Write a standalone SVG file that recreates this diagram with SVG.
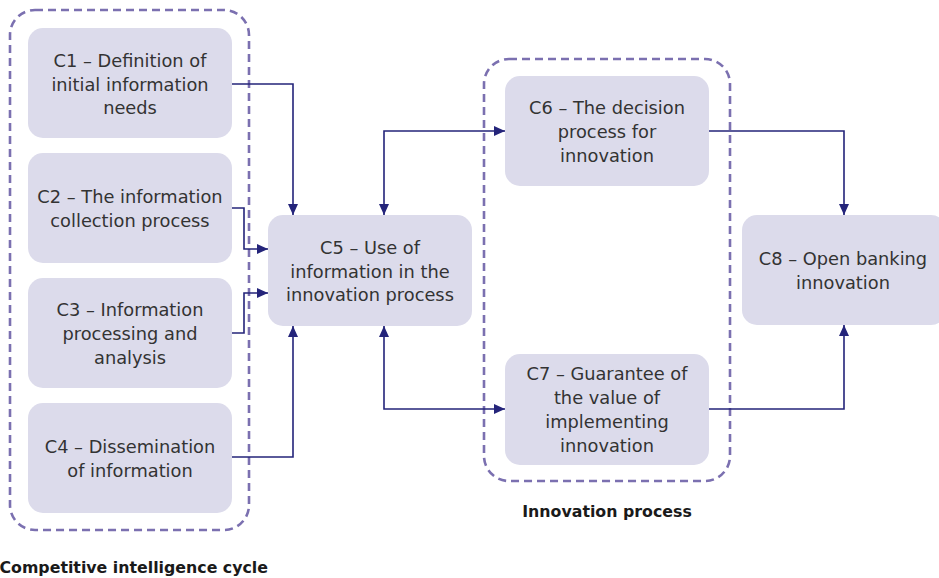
<svg xmlns="http://www.w3.org/2000/svg" width="939" height="578" viewBox="0 0 939 578">
  <defs>
    <style>
      .group { fill: none; stroke: #7b70b0; stroke-width: 2.6; stroke-dasharray: 8 5; }
      .node rect { fill: #dcdbeb; }
      .node text { font-family: "DejaVu Sans", sans-serif; font-size: 17.8px; fill: #333333; text-anchor: middle; }
      .label { font-family: "DejaVu Sans", sans-serif; font-weight: bold; font-size: 15.8px; fill: #1a1a1a; }
      .conn { fill: none; stroke: #24247a; stroke-width: 1.6; }
      .one { marker-end: url(#arrow); }
      .two { marker-start: url(#arrow); marker-end: url(#arrow); }
    </style>
    <marker id="arrow" markerUnits="userSpaceOnUse" markerWidth="12" markerHeight="11" refX="11" refY="5" orient="auto-start-reverse">
      <path d="M0,0 L11,5 L0,10 z" fill="#24247a"/>
    </marker>
  </defs>

  <rect width="939" height="578" fill="#ffffff"/>

  <!-- grouping frames -->
  <g id="frame-ci">
    <rect class="group" x="10" y="10" width="239" height="520" rx="25"/>
    <text class="label" x="268" y="573" text-anchor="end">Competitive intelligence cycle</text>
  </g>
  <g id="frame-innovation">
    <rect class="group" x="484" y="59" width="246" height="422" rx="25"/>
    <text class="label" x="607" y="517" text-anchor="middle">Innovation process</text>
  </g>

  <!-- nodes -->
  <g id="c1" class="node">
    <rect x="28" y="28" width="204" height="110" rx="15"/>
    <text x="130" y="67">C1 – Definition of</text>
    <text x="130" y="90.5">initial information</text>
    <text x="130" y="114">needs</text>
  </g>
  <g id="c2" class="node">
    <rect x="28" y="153" width="204" height="110" rx="15"/>
    <text x="130" y="203">C2 – The information</text>
    <text x="130" y="227">collection process</text>
  </g>
  <g id="c3" class="node">
    <rect x="28" y="278" width="204" height="110" rx="15"/>
    <text x="130" y="316">C3 – Information</text>
    <text x="130" y="340">processing and</text>
    <text x="130" y="364">analysis</text>
  </g>
  <g id="c4" class="node">
    <rect x="28" y="403" width="204" height="110" rx="15"/>
    <text x="130" y="453">C4 – Dissemination</text>
    <text x="130" y="477">of information</text>
  </g>
  <g id="c5" class="node">
    <rect x="268" y="215" width="204" height="111" rx="15"/>
    <text x="370" y="253.5">C5 – Use of</text>
    <text x="370" y="277.5">information in the</text>
    <text x="370" y="301">innovation process</text>
  </g>
  <g id="c6" class="node">
    <rect x="505" y="76" width="204" height="110" rx="15"/>
    <text x="607" y="113.5">C6 – The decision</text>
    <text x="607" y="137.5">process for</text>
    <text x="607" y="161.5">innovation</text>
  </g>
  <g id="c7" class="node">
    <rect x="505" y="354" width="204" height="111" rx="15"/>
    <text x="607" y="380">C7 – Guarantee of</text>
    <text x="607" y="404">the value of</text>
    <text x="607" y="428">implementing</text>
    <text x="607" y="452">innovation</text>
  </g>
  <g id="c8" class="node">
    <rect x="742" y="215" width="204" height="110" rx="15"/>
    <text x="843" y="265">C8 – Open banking</text>
    <text x="843" y="289">innovation</text>
  </g>

  <!-- connectors -->
  <g id="connectors">
    <path class="conn one" d="M232,84 H293 V215"/>
    <path class="conn one" d="M232,208 H244 V249 H268"/>
    <path class="conn one" d="M232,333 H244 V293 H268"/>
    <path class="conn one" d="M232,457 H293 V326"/>
    <path class="conn two" d="M384,215 V131 H505"/>
    <path class="conn two" d="M384,326 V409 H505"/>
    <path class="conn one" d="M709,131 H844 V215"/>
    <path class="conn one" d="M709,409 H844 V325"/>
  </g>
</svg>
